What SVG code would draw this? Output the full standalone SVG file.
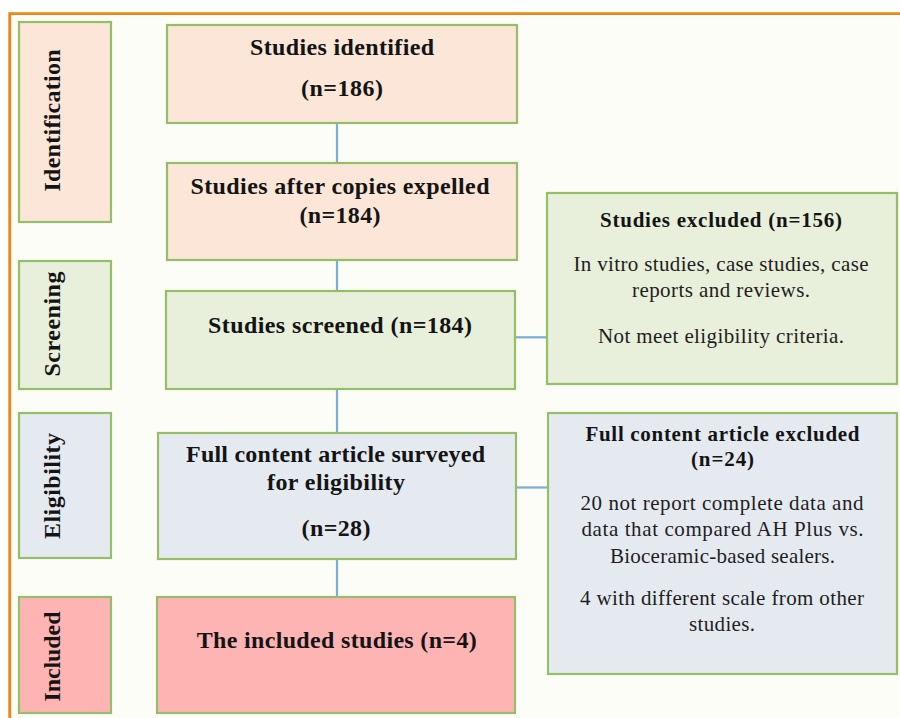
<svg xmlns="http://www.w3.org/2000/svg" width="900" height="718" viewBox="0 0 900 718">
<style>
.box{stroke:#95BE6B;stroke-width:2.2}
.id{fill:#FBE6D7}
.sc{fill:#E8EFDB}
.el{fill:#E5EAF1}
.in{fill:#FFB4B4}
.b{font-family:"Liberation Serif","Times New Roman",Times,serif;font-weight:bold;font-size:24px;fill:#141414;text-anchor:middle}
.h{font-family:"Liberation Serif","Times New Roman",Times,serif;font-weight:bold;font-size:21px;fill:#141414;text-anchor:middle}
.r{font-family:"Liberation Serif","Times New Roman",Times,serif;font-size:21px;fill:#1e1e1e;text-anchor:middle}
.con{stroke:#78AEDB;stroke-width:2.2;fill:none}
</style>
<rect x="0" y="0" width="900" height="718" fill="#FFFFFF"/>
<rect x="10" y="14" width="900" height="710" fill="#FDFDF7"/>
<path d="M9.7 718 V13.7 H900" fill="none" stroke="#EE8519" stroke-width="2.8"/>

<g id="stage-identification">
<rect class="box id" x="19" y="22" width="92" height="200"/>
<text class="b" transform="translate(60,120.5) rotate(-90)" textLength="142">Identification</text>
</g>
<g id="stage-screening">
<rect class="box sc" x="19" y="261" width="92" height="128"/>
<text class="b" transform="translate(60,324) rotate(-90)" textLength="105">Screening</text>
</g>
<g id="stage-eligibility">
<rect class="box el" x="19" y="413" width="92" height="145"/>
<text class="b" transform="translate(60,486) rotate(-90)" textLength="106">Eligibility</text>
</g>
<g id="stage-included">
<rect class="box in" x="19" y="597" width="92" height="116"/>
<text class="b" transform="translate(60,656.5) rotate(-90)" textLength="90">Included</text>
</g>

<g id="connectors">
<line class="con" x1="337" y1="123" x2="337" y2="163"/>
<line class="con" x1="337" y1="260" x2="337" y2="291"/>
<line class="con" x1="337" y1="389" x2="337" y2="433"/>
<line class="con" x1="337" y1="559" x2="337" y2="597"/>
<line class="con" x1="515" y1="337.3" x2="547" y2="337.3"/>
<line class="con" x1="516" y1="487.5" x2="548" y2="487.5"/>
</g>

<g id="identified">
<rect class="box id" x="167" y="25" width="350" height="98"/>
<text class="b" x="342" y="55" textLength="184">Studies identified</text>
<text class="b" x="342" y="96" textLength="82">(n=186)</text>
</g>
<g id="after-copies">
<rect class="box id" x="167" y="163" width="350" height="97"/>
<text class="b" x="340" y="194" textLength="299">Studies after copies expelled</text>
<text class="b" x="340" y="223" textLength="81">(n=184)</text>
</g>
<g id="screened">
<rect class="box sc" x="166" y="291" width="349" height="98"/>
<text class="b" x="340" y="333" textLength="264">Studies screened (n=184)</text>
</g>
<g id="surveyed">
<rect class="box el" x="158" y="433" width="358" height="126"/>
<text class="b" x="335.5" y="462" textLength="299">Full content article surveyed</text>
<text class="b" x="336" y="490" textLength="138">for eligibility</text>
<text class="b" x="336" y="536" textLength="69">(n=28)</text>
</g>
<g id="included">
<rect class="box in" x="157" y="597" width="358" height="116"/>
<text class="b" x="336.7" y="648" textLength="280">The included studies (n=4)</text>
</g>
<g id="excluded">
<rect class="box sc" x="547" y="193" width="350" height="191"/>
<text class="h" x="721" y="227" textLength="242">Studies excluded (n=156)</text>
<text class="r" x="721" y="271" textLength="295">In vitro studies, case studies, case</text>
<text class="r" x="721" y="297" textLength="178">reports and reviews.</text>
<text class="r" x="721" y="343" textLength="246">Not meet eligibility criteria.</text>
</g>
<g id="full-excluded">
<rect class="box el" x="548" y="413" width="349" height="261"/>
<text class="h" x="722.5" y="441" textLength="274">Full content article excluded</text>
<text class="h" x="722.5" y="466" textLength="63">(n=24)</text>
<text class="r" x="722" y="510" textLength="283">20 not report complete data and</text>
<text class="r" x="722.5" y="536" textLength="282">data that compared AH Plus vs.</text>
<text class="r" x="722.5" y="563" textLength="225">Bioceramic-based sealers.</text>
<text class="r" x="722" y="605" textLength="284">4 with different scale from other</text>
<text class="r" x="722" y="631" textLength="66">studies.</text>
</g>
</svg>
